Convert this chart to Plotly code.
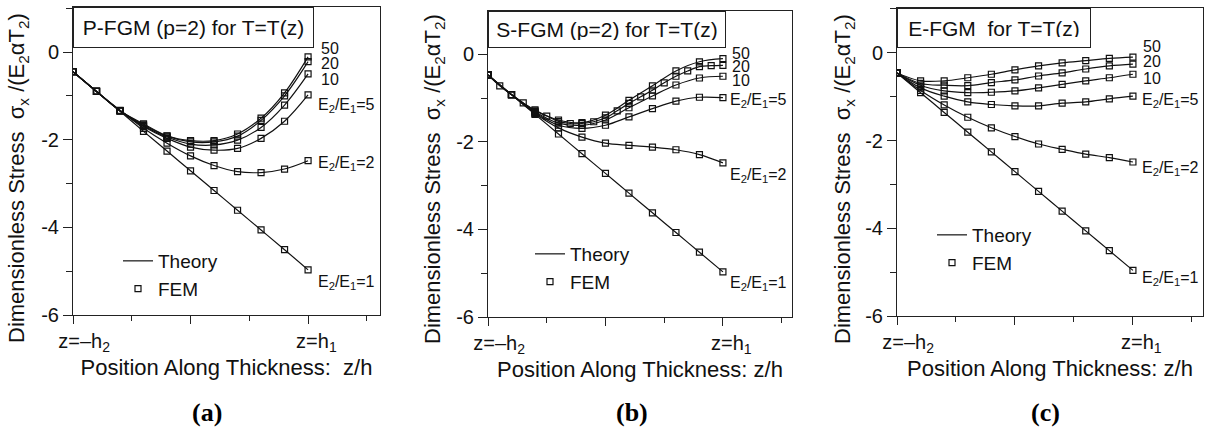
import plotly.graph_objects as go

# ---------------- data ----------------
z = [0.0, 0.1, 0.2, 0.3, 0.4, 0.5, 0.6, 0.7, 0.8, 0.9, 1.0]
z_fine = [0.0, 0.05, 0.1, 0.15, 0.2, 0.25, 0.3, 0.35, 0.4, 0.45, 0.5,
          0.55, 0.6, 0.65, 0.7, 0.75, 0.8, 0.85, 0.9, 0.95, 1.0]

# (a) P-FGM (p=2)
p_r1 = [-0.45, -0.90, -1.35, -1.81, -2.26, -2.71, -3.16, -3.61, -4.06, -4.51, -4.97]
p_r2 = [-0.45, -0.90, -1.33, -1.74, -2.08, -2.37, -2.59, -2.73, -2.75, -2.67, -2.48]
p_r5 = [-0.45, -0.90, -1.34, -1.70, -1.97, -2.17, -2.24, -2.20, -1.97, -1.58, -0.98]
p_r10 = [-0.45, -0.90, -1.34, -1.68, -1.94, -2.10, -2.12, -2.01, -1.72, -1.21, -0.50]
p_r20 = [-0.45, -0.90, -1.34, -1.66, -1.92, -2.05, -2.05, -1.92, -1.56, -1.00, -0.22]
p_r50 = [-0.45, -0.90, -1.34, -1.64, -1.91, -2.02, -2.02, -1.87, -1.51, -0.93, -0.11]

# (b) S-FGM (p=2)
s_r1 = [-0.47, -0.92, -1.37, -1.82, -2.27, -2.72, -3.17, -3.62, -4.07, -4.52, -4.97]
s_r2 = [-0.47, -0.92, -1.35, -1.68, -1.89, -2.03, -2.08, -2.12, -2.18, -2.29, -2.48]
s_r5 = [-0.47, -0.92, -1.33, -1.62, -1.69, -1.62, -1.43, -1.24, -1.07, -0.98, -0.99]
s_r10 = [-0.47, -0.92, -1.31, -1.57, -1.62, -1.50, -1.22, -0.95, -0.70, -0.54, -0.50]
s_r20 = [-0.47, -0.72, -0.92, -1.11, -1.29, -1.41, -1.53, -1.58, -1.58, -1.54, -1.45,
         -1.29, -1.12, -0.97, -0.82, -0.65, -0.50, -0.38, -0.28, -0.26, -0.25]
s_r50 = [-0.47, -0.92, -1.27, -1.50, -1.56, -1.39, -1.05, -0.72, -0.38, -0.17, -0.10]

# (c) E-FGM
e_r1 = [-0.46, -0.91, -1.36, -1.81, -2.26, -2.71, -3.16, -3.61, -4.06, -4.51, -4.96]
e_r2 = [-0.46, -0.86, -1.19, -1.47, -1.71, -1.91, -2.08, -2.20, -2.31, -2.39, -2.49]
e_r5 = [-0.46, -0.80, -0.99, -1.12, -1.18, -1.21, -1.21, -1.15, -1.12, -1.05, -0.99]
e_r10 = [-0.46, -0.74, -0.87, -0.91, -0.90, -0.87, -0.80, -0.72, -0.64, -0.57, -0.49]
e_r20 = [-0.46, -0.70, -0.74, -0.75, -0.68, -0.62, -0.53, -0.46, -0.37, -0.30, -0.26]
e_r50 = [-0.46, -0.64, -0.64, -0.57, -0.49, -0.39, -0.30, -0.23, -0.18, -0.13, -0.10]

panel_titles = ["P-FGM (p=2) for T=T(z)", "S-FGM (p=2) for T=T(z)", "E-FGM  for T=T(z)"]
xtitles = ["Position Along Thickness:  z/h", "Position Along Thickness: z/h",
           "Position Along Thickness: z/h"]
ytitle = "Dimensionless Stress  \u03c3<sub>x</sub> /(E<sub>2</sub>\u03b1T<sub>2</sub>)"
captions = ["(a)", "(b)", "(c)"]
ratio_labels = ["50", "20", "10", "E<sub>2</sub>/E<sub>1</sub>=5",
                "E<sub>2</sub>/E<sub>1</sub>=2", "E<sub>2</sub>/E<sub>1</sub>=1"]
ytick_vals = [-6, -4, -2, 0]
ytick_text = ["-6", "-4", "-2", "0"]
xtick_vals = [0, 0.5, 1]
NB = "\u00a0"
xtick_text = [NB * 4 + "z=\u2013h<sub>2</sub>", "", NB * 3 + "z=h<sub>1</sub>"]

panels = [
    [(z, p_r50), (z, p_r20), (z, p_r10), (z, p_r5), (z, p_r2), (z, p_r1)],
    [(z, s_r50), (z_fine, s_r20), (z, s_r10), (z, s_r5), (z, s_r2), (z, s_r1)],
    [(z, e_r50), (z, e_r20), (z, e_r10), (z, e_r5), (z, e_r2), (z, e_r1)],
]

# ---------------- layout geometry ----------------
W, H = 1208, 434
FONT = "Arial, Liberation Sans, sans-serif"
SERIF = "Times New Roman, Liberation Serif, serif"

# plot-area pixel boxes: left, right, top, bottom
boxes = [(73, 380, 7, 315), (488, 792, 11, 317), (897, 1203, 8, 316)]
xranges = [[0, 1.306], [0, 1.294], [0, 1.297]]
yranges = [[-6, 1.027], [-6, 0.99], [-6, 1.02]]
title_box = [(225, 25, 7), (222, 21, 7), (172, 18, 10)]  # width, height, pad
legend_pos = [(118, 242), (530, 235), (932, 216)]
caption_x = [207, 632, 1045]
ytitle_pos = [(18, 178), (434, 179), (844, 179)]
label_pos = [
    [(1.045, 0.07), (1.045, -0.27), (1.045, -0.62), (1.034, -1.23), (1.034, -2.55), (1.034, -5.25)],
    [(1.03, 0.03), (1.03, -0.28), (1.03, -0.59), (1.02, -1.06), (1.02, -2.76), (1.02, -5.24)],
    [(1.034, 0.14), (1.034, -0.20), (1.034, -0.58), (1.03, -1.08), (1.03, -2.63), (1.03, -5.15)],
]

fig = go.Figure()
annotations = []
ink = "#111111"

for i in range(3):
    sfx = "" if i == 0 else str(i + 1)
    xa, ya = "x" + sfx, "y" + sfx
    leg = "legend" + sfx
    for k, (xs, ys) in enumerate(panels[i]):
        fig.add_trace(go.Scatter(
            x=xs, y=ys, mode="lines", line=dict(color=ink, width=1.2, shape="spline"),
            xaxis=xa, yaxis=ya, name="Theory", legend=leg,
            showlegend=(k == 0), hoverinfo="skip"))
    for k, (xs, ys) in enumerate(panels[i]):
        fig.add_trace(go.Scatter(
            x=xs, y=ys, mode="markers",
            marker=dict(symbol="square-open", size=6, color=ink, line=dict(width=1.2, color=ink)),
            xaxis=xa, yaxis=ya, name="FEM", legend=leg,
            showlegend=(k == 0), hoverinfo="skip"))

    l, r, t, b = boxes[i]
    xdom = [l / W, r / W]
    ydom = [1 - b / H, 1 - t / H]
    axis_common = dict(showline=True, linecolor="#222", linewidth=1, mirror=True,
                       showgrid=False, zeroline=False, ticks="outside",
                       tickcolor="#222", tickfont=dict(family=FONT, size=20, color=ink))
    fig.update_layout(**{
        "xaxis" + sfx: dict(axis_common, domain=xdom, range=xranges[i], anchor=ya,
                            tickmode="array", tickvals=xtick_vals, ticktext=xtick_text,
                            ticklen=8, minor=dict(dtick=0.25, tick0=0, ticklen=5, ticks="outside",
                                                  tickcolor="#222"),
                            title=dict(text=xtitles[i], font=dict(family=FONT, size=22, color=ink),
                                       standoff=2)),
        "yaxis" + sfx: dict(axis_common, domain=ydom, range=yranges[i], anchor=xa,
                            tickmode="array", tickvals=ytick_vals, ticktext=ytick_text,
                            ticklen=9, minor=dict(dtick=1, tick0=0, ticklen=6, ticks="outside",
                                                  tickcolor="#222")),
        leg: dict(x=legend_pos[i][0] / W, y=1 - legend_pos[i][1] / H, xanchor="left", yanchor="top",
                  bgcolor="rgba(0,0,0,0)", borderwidth=0, tracegroupgap=0,
                  font=dict(family=FONT, size=19, color=ink)),
    })

    annotations.append(dict(
        xref="paper", yref="paper", x=ytitle_pos[i][0] / W, y=1 - ytitle_pos[i][1] / H,
        xanchor="center", yanchor="middle", textangle=-90, text=ytitle, showarrow=False,
        font=dict(family=FONT, size=22, color=ink)))
    tw, th, tp = title_box[i]
    annotations.append(dict(
        xref="paper", yref="paper", x=l / W, y=1 - t / H, xanchor="left", yanchor="top",
        text=panel_titles[i], showarrow=False, width=tw, height=th, borderpad=tp,
        bordercolor="#222", borderwidth=1, bgcolor="white",
        font=dict(family=FONT, size=21, color=ink)))
    for txt, (lx, ly) in zip(ratio_labels, label_pos[i]):
        annotations.append(dict(xref=xa, yref=ya, x=lx, y=ly, text=txt, showarrow=False,
                                xanchor="left", yanchor="middle",
                                font=dict(family=FONT, size=16, color=ink)))
    annotations.append(dict(xref="paper", yref="paper", x=caption_x[i] / W, y=1 - 412 / H,
                            xanchor="center", yanchor="middle", text="<b>" + captions[i] + "</b>",
                            showarrow=False, font=dict(family=SERIF, size=26, color="black")))

fig.update_layout(width=W, height=H, margin=dict(l=0, r=0, t=0, b=0),
                  paper_bgcolor="white", plot_bgcolor="white", template="none",
                  annotations=annotations, showlegend=True)

fig.write_html("out.html")
